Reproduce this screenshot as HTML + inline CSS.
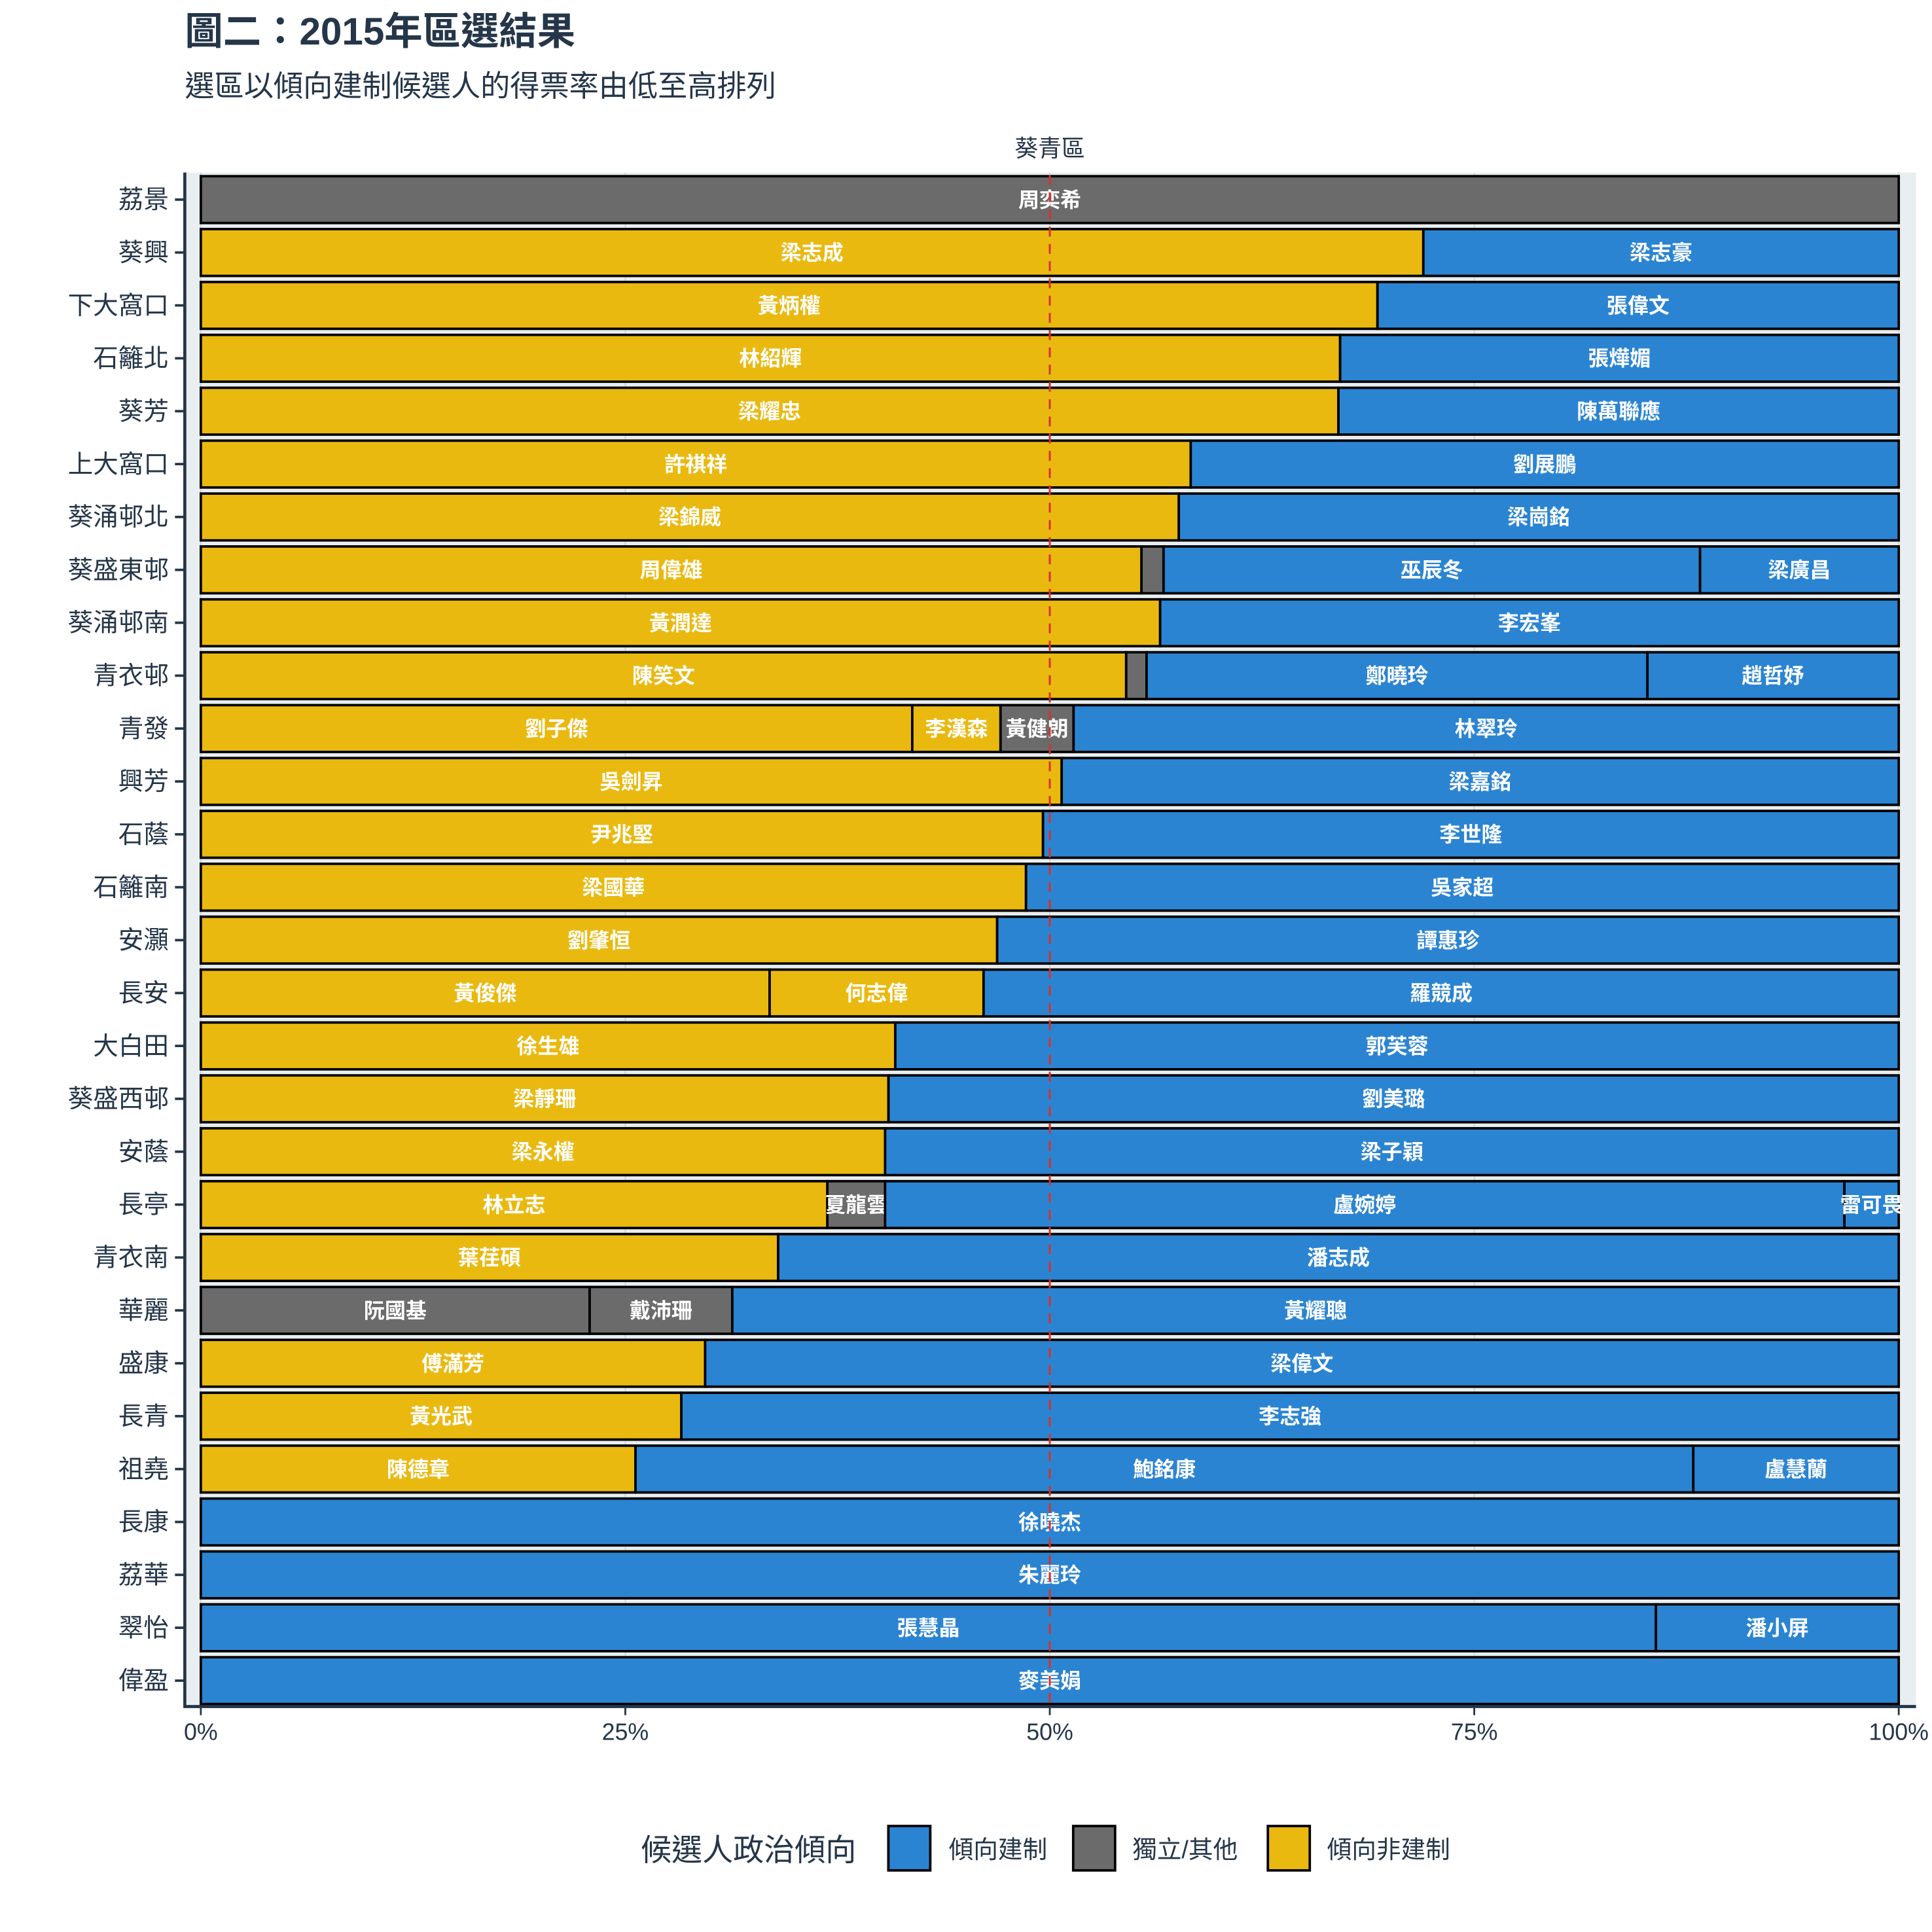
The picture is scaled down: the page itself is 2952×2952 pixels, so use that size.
<!DOCTYPE html>
<html><head><meta charset="utf-8">
<style>
html,body{margin:0;padding:0;background:#fff;}
svg{display:block;}
text{font-family:"Liberation Sans","Noto Sans CJK TC","Noto Sans CJK SC",sans-serif;}
</style></head>
<body>
<svg id="chart" width="2952" height="2952" viewBox="0 0 1568 1568" xmlns="http://www.w3.org/2000/svg">
<text x="150" y="36" font-size="31" font-weight="bold" fill="#253649">圖二：2015年區選結果</text>
<text x="150" y="78" font-size="24" fill="#253649">選區以傾向建制候選人的得票率由低至高排列</text>
<text x="852" y="127" font-size="19" fill="#253649" text-anchor="middle">葵青區</text>
<rect x="150" y="140" width="1405" height="1246" fill="#e9eef0"/>
<g id="grid"></g>
<g id="bars"></g>
<g id="axes"></g>
<g id="legend">
<text x="520" y="1510" font-size="25" fill="#253649">候選人政治傾向</text>
<rect x="721" y="1482" width="34" height="36" fill="#2b84d2" stroke="#000" stroke-width="2"/>
<text x="770" y="1508" font-size="20" fill="#253649">傾向建制</text>
<rect x="871" y="1482" width="34" height="36" fill="#6b6b6b" stroke="#000" stroke-width="2"/>
<text x="919" y="1508" font-size="20" fill="#253649">獨立/其他</text>
<rect x="1029" y="1482" width="34" height="36" fill="#eab910" stroke="#000" stroke-width="2"/>
<text x="1077" y="1508" font-size="20" fill="#253649">傾向非建制</text>
</g>
</svg>
<script>
const districts = ["荔景","葵興","下大窩口","石籬北","葵芳","上大窩口","葵涌邨北","葵盛東邨","葵涌邨南","青衣邨","青發","興芳","石蔭","石籬南","安灝","長安","大白田","葵盛西邨","安蔭","長亭","青衣南","華麗","盛康","長青","祖堯","長康","荔華","翠怡","偉盈"];
const candidates = [
 ["周奕希"],["梁志成","梁志豪"],["黃炳權","張偉文"],["林紹輝","張燁媚"],["梁耀忠","陳萬聯應"],
 ["許祺祥","劉展鵬"],["梁錦威","梁崗銘"],["周偉雄","","巫辰冬","梁廣昌"],["黃潤達","李宏峯"],
 ["陳笑文","","鄭曉玲","趙哲妤"],["劉子傑","李漢森","黃健朗","林翠玲"],["吳劍昇","梁嘉銘"],
 ["尹兆堅","李世隆"],["梁國華","吳家超"],["劉肇恒","譚惠珍"],["黃俊傑","何志偉","羅競成"],
 ["徐生雄","郭芙蓉"],["梁靜珊","劉美璐"],["梁永權","梁子穎"],["林立志","夏龍雲","盧婉婷","雷可畏"],
 ["葉荏碩","潘志成"],["阮國基","戴沛珊","黃耀聰"],["傅滿芳","梁偉文"],["黃光武","李志強"],
 ["陳德章","鮑銘康","盧慧蘭"],["徐曉杰"],["朱麗玲"],["張慧晶","潘小屏"],["麥美娟"]];
const shares = [
 [100],[72.0,28.0],[69.3,30.7],[67.1,32.9],[67.0,33.0],
 [58.3,41.7],[57.6,42.4],[55.4,1.3,31.6,11.7],[56.5,43.5],
 [54.5,1.2,29.5,14.8],[41.9,5.2,4.3,48.6],[50.7,49.3],
 [49.6,50.4],[48.6,51.4],[46.9,53.1],[33.5,12.6,53.9],
 [40.9,59.1],[40.5,59.5],[40.3,59.7],[36.9,3.4,56.5,3.2],
 [34.0,66.0],[22.9,8.4,68.7],[29.7,70.3],[28.3,71.7],
 [25.6,62.3,12.1],[100],[100],[85.7,14.3],[100]];
const camps = [
 ["G"],["Y","B"],["Y","B"],["Y","B"],["Y","B"],
 ["Y","B"],["Y","B"],["Y","G","B","B"],["Y","B"],
 ["Y","G","B","B"],["Y","Y","G","B"],["Y","B"],
 ["Y","B"],["Y","B"],["Y","B"],["Y","Y","B"],
 ["Y","B"],["Y","B"],["Y","B"],["Y","G","B","B"],
 ["Y","B"],["G","G","B"],["Y","B"],["Y","B"],
 ["Y","B","B"],["B"],["B"],["B","B"],["B"]];
const xTicks = [0,25,50,75,100];
const xTickLabels = ["0%","25%","50%","75%","100%"];
const refLine = 50;

const NS="http://www.w3.org/2000/svg";
const colors={B:"#2b84d2",G:"#6b6b6b",Y:"#eab910"};
const x0=163,x1=1541,yTop=162,step=(1364-162)/(districts.length-1),barH=38;
const xs=v=>x0+(x1-x0)*v/100;
const ys=i=>yTop+i*step;
function mk(tag,attrs,parent){const e=document.createElementNS(NS,tag);for(const k in attrs)e.setAttribute(k,attrs[k]);parent.appendChild(e);return e;}
const grid=document.getElementById('grid'),bars=document.getElementById('bars'),axes=document.getElementById('axes');
xTicks.forEach(t=>{const l=mk('line',{x1:xs(t),x2:xs(t),y1:140,y2:1386,stroke:'#d0d6d8','stroke-width':1},grid);

});
districts.forEach((d,i)=>{
 const cy=ys(i);let acc=0;
 shares[i].forEach((s,j)=>{
  const r=mk('rect',{x:xs(acc),y:cy-barH/2,width:xs(acc+s)-xs(acc),height:barH,fill:colors[camps[i][j]],stroke:'#000','stroke-width':2},bars);
  
  
  const nm=candidates[i][j];
  if(nm){const t=mk('text',{x:(xs(acc)+xs(acc+s))/2,y:cy+6,'font-size':17,'font-weight':'bold',fill:'#fff','text-anchor':'middle'},bars);t.textContent=nm;
  
  }
  acc+=s;});
 const lb=mk('text',{x:137,y:cy+7,'font-size':20.5,fill:'#253649','text-anchor':'end'},axes);lb.textContent=d;
 
 
 const tk=mk('line',{x1:142,x2:150,y1:cy,y2:cy,stroke:'#253649','stroke-width':2},axes);
 
 
});
const rl=mk('line',{x1:xs(refLine),x2:xs(refLine),y1:142,y2:1385,stroke:'#d9312a','stroke-width':1.6,'stroke-dasharray':'8,6'},bars);


const ya=mk('line',{x1:150,x2:150,y1:140,y2:1386,stroke:'#253649','stroke-width':2.5},axes);


const xa=mk('line',{x1:149,x2:1555,y1:1385,y2:1385,stroke:'#253649','stroke-width':2.5},axes);


xTicks.forEach((t,k)=>{
 const l=mk('line',{x1:xs(t),x2:xs(t),y1:1385,y2:1392,stroke:'#253649','stroke-width':1.5},axes);
 
 
 const tx=mk('text',{x:xs(t),y:1412,'font-size':19,fill:'#253649','text-anchor':'middle'},axes);tx.textContent=xTickLabels[k];
 
 
});
</script>
</body></html>
